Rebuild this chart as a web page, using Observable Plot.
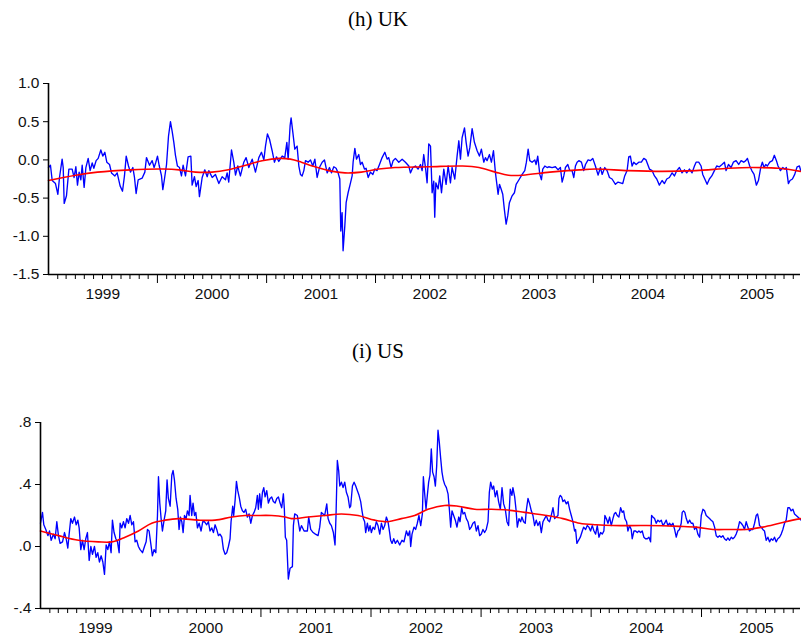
<!DOCTYPE html>
<html><head><meta charset="utf-8">
<script src="https://cdn.jsdelivr.net/npm/d3@7"></script>
<script src="https://cdn.jsdelivr.net/npm/@observablehq/plot@0.6"></script>
<style>
body{margin:0;background:#fff;}
#wrap{position:relative;width:801px;height:639px;overflow:hidden;background:#fff;}
.title{position:absolute;left:0;width:756px;text-align:center;font-family:"Liberation Serif","Times New Roman",serif;font-size:21px;line-height:24px;color:#000;}
.chart{position:absolute;left:0;}
</style></head><body>
<div id="wrap">
 <div class="title" style="top:7px">(h) UK</div>
 <div class="chart" id="uk" style="top:60px"></div>
 <div class="title" style="top:339px">(i) US</div>
 <div class="chart" id="us" style="top:400px"></div>
</div>
<script>
// time = years elapsed since 1 Jan 1999
const START_YEAR = 1999;
const END_T = 6.90;
const yearLabels = [1999, 2000, 2001, 2002, 2003, 2004, 2005];
const ukTicks = [1.0, 0.5, 0.0, -0.5, -1.0, -1.5];
const usTicks = [0.8, 0.4, 0.0, -0.4];

const ukBlue = [[0.000,-0.10],[0.018,-0.07],[0.034,-0.27],[0.064,-0.31],[0.086,-0.45],[0.101,-0.23],[0.125,0.01],[0.135,-0.10],[0.144,-0.57],[0.165,-0.47],[0.187,-0.12],[0.217,-0.12],[0.235,-0.23],[0.251,-0.09],[0.266,-0.33],[0.281,-0.16],[0.297,-0.26],[0.309,-0.07],[0.327,-0.36],[0.343,-0.10],[0.364,0.02],[0.382,-0.14],[0.401,-0.04],[0.416,-0.11],[0.437,-0.01],[0.456,0.02],[0.480,0.13],[0.498,0.05],[0.517,0.10],[0.535,-0.03],[0.560,-0.06],[0.578,-0.17],[0.609,-0.21],[0.630,-0.17],[0.657,-0.34],[0.679,-0.41],[0.697,-0.21],[0.713,0.05],[0.734,-0.08],[0.752,-0.16],[0.774,-0.10],[0.789,-0.23],[0.804,-0.44],[0.823,-0.26],[0.859,-0.24],[0.884,-0.16],[0.899,0.03],[0.927,-0.07],[0.951,-0.01],[0.969,-0.10],[0.985,-0.03],[1.000,0.05],[1.015,-0.07],[1.037,-0.21],[1.049,-0.39],[1.064,-0.25],[1.083,-0.06],[1.101,0.31],[1.119,0.50],[1.135,0.37],[1.150,0.23],[1.165,0.06],[1.183,-0.08],[1.202,-0.10],[1.220,-0.21],[1.235,-0.07],[1.257,-0.21],[1.281,0.04],[1.306,0.05],[1.318,-0.33],[1.339,-0.22],[1.355,-0.35],[1.373,-0.27],[1.385,-0.48],[1.410,-0.23],[1.434,-0.13],[1.456,-0.22],[1.471,-0.14],[1.502,-0.23],[1.532,-0.19],[1.563,-0.31],[1.593,-0.22],[1.624,-0.26],[1.639,-0.17],[1.654,-0.29],[1.679,0.13],[1.700,-0.03],[1.716,-0.20],[1.737,-0.08],[1.761,-0.21],[1.792,-0.03],[1.813,0.03],[1.838,-0.10],[1.869,0.01],[1.899,-0.16],[1.930,0.03],[1.954,0.10],[1.976,0.00],[1.991,0.18],[2.009,0.34],[2.028,0.27],[2.052,0.12],[2.073,-0.03],[2.092,0.04],[2.113,-0.02],[2.144,0.05],[2.168,0.03],[2.187,0.23],[2.199,0.01],[2.217,0.45],[2.226,0.55],[2.242,0.36],[2.260,0.14],[2.281,0.18],[2.297,-0.08],[2.312,-0.19],
[2.327,-0.21],[2.343,-0.14],[2.358,-0.01],[2.382,-0.03],[2.404,0.00],[2.425,-0.08],[2.444,0.01],[2.465,-0.23],[2.486,-0.10],[2.511,-0.03],[2.532,0.00],[2.557,-0.17],[2.578,-0.10],[2.596,-0.17],[2.618,-0.09],[2.639,-0.11],[2.657,-0.17],[2.673,-0.25],[2.682,-0.93],[2.694,-0.69],[2.703,-1.19],[2.719,-0.86],[2.731,-0.56],[2.749,-0.43],[2.771,-0.30],[2.786,-0.21],[2.795,-0.03],[2.811,0.15],[2.826,0.01],[2.847,0.07],[2.862,-0.06],[2.878,-0.03],[2.899,-0.12],[2.914,-0.11],[2.933,-0.23],[2.954,-0.16],[2.976,-0.19],[2.994,-0.12],[3.015,-0.14],[3.037,-0.06],[3.061,0.03],[3.086,0.10],[3.107,0.01],[3.122,0.03],[3.144,-0.10],[3.162,-0.01],[3.183,0.02],[3.214,-0.03],[3.245,0.01],[3.275,-0.03],[3.306,-0.08],[3.321,-0.17],[3.343,-0.10],[3.367,-0.08],[3.391,-0.12],[3.413,-0.06],[3.428,-0.14],[3.443,0.07],[3.459,-0.10],[3.474,-0.30],[3.489,0.21],[3.505,0.18],[3.520,-0.43],[3.535,-0.28],[3.544,-0.75],[3.554,-0.30],[3.575,-0.38],[3.590,-0.21],[3.606,-0.43],[3.627,-0.12],[3.648,-0.32],[3.667,-0.08],[3.688,-0.30],[3.703,-0.10],[3.728,-0.25],[3.749,0.05],[3.765,0.25],[3.780,0.01],[3.795,0.29],[3.817,0.42],[3.832,0.23],[3.850,0.05],[3.866,0.16],[3.887,0.41],[3.908,0.23],[3.933,0.12],[3.954,0.05],[3.972,0.14],[3.994,-0.03],[4.009,0.03],[4.024,-0.01],[4.046,0.07],[4.064,-0.03],[4.083,0.12],[4.101,-0.17],[4.116,-0.34],[4.125,-0.45],[4.138,-0.32],[4.153,-0.38],[4.168,-0.45],[4.183,-0.65],[4.199,-0.84],[4.214,-0.73],[4.229,-0.56],[4.254,-0.47],[4.275,-0.43],[4.291,-0.32],[4.321,-0.25],[4.346,-0.19],[4.370,-0.14],[4.385,-0.03],[4.401,0.14],[4.416,-0.01],[4.437,-0.03],[4.462,0.00],[4.474,-0.06],[4.489,0.05],[4.508,-0.19],[4.523,-0.26],[4.535,-0.12],[4.554,-0.08],[4.575,-0.10],
[4.590,-0.09],[4.621,-0.10],[4.651,-0.09],[4.676,-0.13],[4.697,-0.10],[4.713,-0.29],[4.728,-0.21],[4.743,-0.10],[4.765,-0.06],[4.783,-0.14],[4.804,-0.14],[4.820,-0.23],[4.835,-0.08],[4.850,-0.03],[4.866,-0.01],[4.890,-0.03],[4.911,-0.14],[4.927,-0.06],[4.951,0.00],[4.972,-0.01],[4.994,0.02],[5.018,-0.08],[5.043,-0.20],[5.064,-0.10],[5.080,-0.19],[5.104,-0.10],[5.125,-0.14],[5.147,-0.23],[5.171,-0.25],[5.202,-0.32],[5.226,-0.29],[5.248,-0.30],[5.269,-0.31],[5.287,-0.21],[5.309,-0.14],[5.324,0.04],[5.339,0.05],[5.355,-0.08],[5.370,-0.03],[5.392,-0.06],[5.416,-0.03],[5.440,-0.03],[5.462,0.02],[5.483,0.00],[5.514,-0.12],[5.538,-0.14],[5.560,-0.21],[5.581,-0.25],[5.605,-0.33],[5.630,-0.27],[5.651,-0.31],[5.673,-0.25],[5.697,-0.23],[5.722,-0.17],[5.743,-0.21],[5.765,-0.14],[5.789,-0.10],[5.813,-0.17],[5.835,-0.13],[5.856,-0.17],[5.881,-0.12],[5.905,-0.17],[5.927,-0.08],[5.942,-0.03],[5.966,-0.03],[5.988,-0.08],[6.003,-0.19],[6.028,-0.27],[6.043,-0.32],[6.064,-0.25],[6.086,-0.21],[6.110,-0.14],[6.131,-0.08],[6.156,-0.09],[6.180,-0.06],[6.202,-0.03],[6.217,-0.14],[6.239,-0.06],[6.263,-0.10],[6.284,-0.03],[6.309,-0.01],[6.333,-0.06],[6.355,-0.01],[6.379,-0.03],[6.398,-0.01],[6.413,0.02],[6.434,-0.08],[6.453,-0.14],[6.474,-0.19],[6.495,-0.33],[6.514,-0.27],[6.535,-0.10],[6.550,-0.03],[6.566,-0.10],[6.581,-0.06],[6.596,-0.08],[6.618,-0.03],[6.642,-0.01],[6.660,0.06],[6.679,-0.01],[6.694,-0.08],[6.716,-0.14],[6.737,-0.10],[6.758,-0.12],[6.770,-0.10],[6.789,-0.31],[6.804,-0.27],[6.826,-0.25],[6.847,-0.19],[6.869,-0.09],[6.890,-0.08],[6.902,-0.14]];

const ukRed = [[0.00,-0.27],[0.25,-0.20],[0.45,-0.16],[0.75,-0.13],[1.05,-0.12],[1.20,-0.13],[1.35,-0.16],[1.50,-0.16],[1.65,-0.13],[1.81,-0.07],[1.96,-0.01],[2.12,0.02],[2.22,0.01],[2.32,-0.03],[2.42,-0.08],[2.57,-0.14],[2.72,-0.17],[2.87,-0.16],[3.03,-0.12],[3.18,-0.10],[3.49,-0.09],[3.80,-0.08],[3.95,-0.10],[4.10,-0.16],[4.22,-0.20],[4.35,-0.20],[4.60,-0.16],[4.87,-0.13],[5.02,-0.12],[5.32,-0.14],[5.63,-0.15],[5.94,-0.14],[6.24,-0.11],[6.45,-0.10],[6.70,-0.11],[6.90,-0.15]];

const usBlue = [[0.000,0.15],[0.018,0.22],[0.030,0.14],[0.048,0.11],[0.067,0.07],[0.082,0.10],[0.097,0.04],[0.118,0.08],[0.133,0.05],[0.148,0.16],[0.163,0.07],[0.178,0.02],[0.200,0.03],[0.218,0.09],[0.233,0.05],[0.248,-0.01],[0.260,0.08],[0.275,0.18],[0.290,0.15],[0.309,0.19],[0.324,0.14],[0.339,0.17],[0.351,0.12],[0.366,-0.02],[0.381,0.04],[0.396,-0.02],[0.411,0.05],[0.426,0.09],[0.442,-0.09],[0.457,0.00],[0.472,-0.05],[0.490,0.00],[0.505,-0.07],[0.520,-0.04],[0.535,-0.10],[0.551,-0.06],[0.566,-0.10],[0.581,-0.18],[0.596,0.01],[0.611,-0.02],[0.626,0.03],[0.641,-0.04],[0.653,0.17],[0.668,0.09],[0.684,0.05],[0.699,0.03],[0.714,-0.04],[0.723,0.15],[0.738,0.12],[0.753,0.16],[0.768,0.12],[0.783,0.18],[0.799,0.15],[0.814,0.20],[0.829,0.14],[0.844,0.16],[0.859,0.03],[0.874,0.04],[0.889,0.00],[0.904,-0.02],[0.926,-0.04],[0.944,0.00],[0.959,0.03],[0.971,0.11],[0.986,0.10],[1.001,0.02],[1.016,-0.06],[1.031,-0.02],[1.047,-0.04],[1.062,0.20],[1.071,0.45],[1.083,0.28],[1.095,0.18],[1.107,0.10],[1.122,0.17],[1.137,0.23],[1.149,0.43],[1.161,0.31],[1.177,0.26],[1.192,0.46],[1.204,0.49],[1.216,0.43],[1.231,0.31],[1.246,0.24],[1.258,0.11],[1.270,0.19],[1.283,0.16],[1.295,0.09],[1.307,0.20],[1.322,0.18],[1.334,0.23],[1.349,0.20],[1.358,0.33],[1.373,0.20],[1.385,0.28],[1.398,0.20],[1.410,0.22],[1.425,0.12],[1.440,0.15],[1.458,0.10],[1.473,0.16],[1.488,0.16],[1.509,0.14],[1.524,0.16],[1.539,0.10],[1.555,0.12],[1.570,0.09],[1.585,0.14],[1.600,0.11],[1.615,0.07],[1.630,0.08],[1.646,0.06],[1.661,-0.02],[1.676,-0.05],[1.691,-0.04],[1.706,0.00],[1.721,0.05],[1.730,0.16],[1.745,0.26],[1.754,0.20],[1.767,0.30],[1.779,0.42],[1.791,0.36],[1.806,0.31],[1.818,0.26],[1.833,0.23],[1.848,0.22],[1.863,0.24],[1.878,0.19],[1.894,0.21],[1.909,0.15],[1.924,0.20],[1.939,0.22],[1.954,0.25],[1.969,0.33],[1.978,0.24],[1.990,0.34],[2.002,0.25],[2.015,0.35],[2.027,0.38],[2.039,0.32],[2.054,0.36],[2.069,0.28],[2.084,0.31],[2.099,0.32],[2.114,0.29],[2.130,0.28],[2.145,0.31],[2.160,0.32],[2.175,0.28],[2.190,0.25],[2.205,0.34],[2.214,0.24],[2.223,0.06],[2.235,0.04],[2.250,-0.21],[2.266,-0.14],
[2.287,-0.13],[2.296,0.135],[2.308,0.21],[2.332,0.20],[2.354,0.10],[2.369,0.135],[2.393,0.10],[2.423,0.10],[2.435,0.19],[2.453,0.11],[2.475,0.09],[2.496,0.08],[2.520,0.07],[2.535,0.125],[2.550,0.22],[2.565,0.21],[2.580,0.20],[2.599,0.275],[2.611,0.18],[2.626,0.15],[2.641,0.135],[2.659,0.09],[2.674,0.01],[2.683,0.20],[2.695,0.555],[2.707,0.49],[2.717,0.39],[2.732,0.415],[2.747,0.38],[2.762,0.415],[2.777,0.35],[2.792,0.32],[2.807,0.25],[2.816,0.26],[2.832,0.39],[2.847,0.415],[2.862,0.39],[2.877,0.36],[2.892,0.33],[2.907,0.29],[2.919,0.23],[2.931,0.18],[2.943,0.16],[2.952,0.09],[2.968,0.15],[2.980,0.10],[2.992,0.135],[3.004,0.09],[3.019,0.125],[3.034,0.11],[3.049,0.16],[3.064,0.135],[3.080,0.08],[3.095,0.15],[3.110,0.11],[3.125,0.135],[3.140,0.19],[3.155,0.16],[3.170,0.09],[3.179,0.04],[3.192,0.02],[3.207,0.05],[3.222,0.02],[3.240,0.04],[3.261,0.01],[3.282,0.04],[3.300,0.03],[3.322,0.10],[3.337,0.07],[3.352,0.10],[3.361,0.00],[3.373,0.08],[3.391,0.125],[3.406,0.11],[3.421,0.15],[3.436,0.20],[3.452,0.135],[3.467,0.21],[3.476,0.45],[3.488,0.34],[3.500,0.24],[3.512,0.33],[3.524,0.415],[3.536,0.46],[3.548,0.63],[3.560,0.48],[3.573,0.45],[3.585,0.39],[3.597,0.52],[3.609,0.75],[3.621,0.67],[3.633,0.57],[3.645,0.48],[3.657,0.43],[3.670,0.40],[3.685,0.38],[3.700,0.34],[3.712,0.24],[3.724,0.125],[3.736,0.23],[3.751,0.20],[3.766,0.17],[3.781,0.125],[3.797,0.19],[3.809,0.16],[3.824,0.25],[3.836,0.21],[3.851,0.22],[3.866,0.18],[3.881,0.16],[3.896,0.11],[3.911,0.125],[3.926,0.15],[3.942,0.16],[3.957,0.10],[3.972,0.135],[3.987,0.07],[4.002,0.08],[4.017,0.11],[4.032,0.09],[4.047,0.11],[4.063,0.16],[4.075,0.35],[4.087,0.415],[4.102,0.37],[4.114,0.39],[4.129,0.32],[4.144,0.36],[4.159,0.29],[4.175,0.24],[4.190,0.38],[4.205,0.275],[4.220,0.24],[4.235,0.16],[4.250,0.135],[4.265,0.37],[4.280,0.33],[4.289,0.38],[4.305,0.32],[4.317,0.24],[4.329,0.125],[4.344,0.18],[4.359,0.16],[4.371,0.19],[4.386,0.16],[4.401,0.15],[4.410,0.23],[4.426,0.31],[4.441,0.275],[4.456,0.23],[4.471,0.20],[4.486,0.135],[4.501,0.17],[4.516,0.135],[4.532,0.16],[4.547,0.09],[4.562,0.16],[4.577,0.18],
[4.592,0.20],[4.607,0.17],[4.622,0.16],[4.637,0.20],[4.653,0.25],[4.668,0.18],[4.683,0.19],[4.698,0.20],[4.707,0.31],[4.719,0.33],[4.731,0.32],[4.743,0.29],[4.758,0.30],[4.774,0.275],[4.789,0.29],[4.804,0.24],[4.819,0.20],[4.834,0.16],[4.849,0.10],[4.858,0.11],[4.870,0.02],[4.885,0.04],[4.901,0.06],[4.919,0.10],[4.931,0.125],[4.949,0.11],[4.964,0.135],[4.979,0.125],[4.994,0.10],[5.009,0.135],[5.025,0.10],[5.040,0.08],[5.055,0.135],[5.070,0.06],[5.085,0.09],[5.100,0.08],[5.115,0.10],[5.124,0.20],[5.137,0.18],[5.152,0.15],[5.167,0.19],[5.182,0.135],[5.197,0.18],[5.209,0.21],[5.221,0.22],[5.236,0.20],[5.251,0.19],[5.267,0.25],[5.282,0.22],[5.294,0.23],[5.306,0.18],[5.321,0.16],[5.333,0.10],[5.348,0.135],[5.363,0.11],[5.372,0.05],[5.388,0.10],[5.403,0.10],[5.418,0.09],[5.433,0.10],[5.448,0.09],[5.463,0.10],[5.478,0.06],[5.493,0.05],[5.509,0.05],[5.524,0.06],[5.539,0.03],[5.548,0.20],[5.560,0.19],[5.575,0.18],[5.590,0.15],[5.605,0.17],[5.621,0.16],[5.636,0.17],[5.651,0.135],[5.666,0.15],[5.681,0.17],[5.696,0.135],[5.711,0.15],[5.726,0.135],[5.742,0.15],[5.757,0.11],[5.772,0.06],[5.787,0.10],[5.802,0.11],[5.817,0.15],[5.826,0.22],[5.838,0.23],[5.850,0.22],[5.863,0.18],[5.878,0.15],[5.893,0.17],[5.908,0.15],[5.923,0.15],[5.938,0.11],[5.953,0.125],[5.968,0.08],[5.984,0.06],[5.999,0.20],[6.014,0.24],[6.029,0.23],[6.044,0.20],[6.059,0.19],[6.074,0.18],[6.089,0.17],[6.105,0.16],[6.120,0.125],[6.135,0.07],[6.150,0.06],[6.165,0.07],[6.180,0.06],[6.195,0.07],[6.210,0.05],[6.226,0.04],[6.241,0.055],[6.256,0.04],[6.271,0.06],[6.286,0.05],[6.301,0.06],[6.316,0.08],[6.331,0.11],[6.347,0.16],[6.362,0.15],[6.377,0.135],[6.392,0.11],[6.407,0.16],[6.422,0.125],[6.437,0.10],[6.452,0.11],[6.468,0.11],[6.483,0.15],[6.498,0.20],[6.510,0.21],[6.519,0.18],[6.528,0.135],[6.543,0.125],[6.558,0.11],[6.573,0.10],[6.589,0.04],[6.604,0.06],[6.619,0.03],[6.634,0.05],[6.649,0.04],[6.664,0.06],[6.679,0.03],[6.694,0.05],[6.710,0.06],[6.725,0.08],[6.740,0.11],[6.755,0.15],[6.770,0.17],[6.785,0.25],[6.800,0.25],[6.815,0.23],[6.831,0.24],[6.846,0.21],[6.861,0.20],[6.876,0.19],[6.891,0.18],[6.906,0.17]];

const usRed = [[0.000,0.10],[0.163,0.07],[0.345,0.04],[0.526,0.03],[0.647,0.03],[0.768,0.06],[0.889,0.10],[1.010,0.15],[1.131,0.17],[1.252,0.18],[1.434,0.17],[1.585,0.17],[1.736,0.19],[1.857,0.20],[1.948,0.20],[2.099,0.20],[2.220,0.19],[2.278,0.18],[2.429,0.19],[2.580,0.20],[2.732,0.21],[2.883,0.20],[3.034,0.17],[3.155,0.16],[3.276,0.18],[3.397,0.20],[3.518,0.24],[3.670,0.265],[3.791,0.26],[3.942,0.24],[4.093,0.24],[4.244,0.235],[4.395,0.22],[4.592,0.20],[4.743,0.18],[4.895,0.15],[5.046,0.14],[5.197,0.135],[5.500,0.135],[5.802,0.13],[5.953,0.125],[6.105,0.11],[6.256,0.11],[6.407,0.11],[6.558,0.125],[6.710,0.15],[6.830,0.17],[6.906,0.18]];

const START = Date.UTC(START_YEAR, 0, 1);
const toDate = t => new Date(START + t * 365.25 * 864e5);
const x0 = toDate(0), x1 = toDate(END_T);
const allMonths = d3.utcMonth.range(new Date(Date.UTC(START_YEAR, 1, 1)), x1);
const minorTicks = allMonths.filter(d => d.getUTCMonth() !== 0);
const majorTicks = allMonths.filter(d => d.getUTCMonth() === 0);
const midYears = yearLabels.map(y => new Date(Date.UTC(y, 6, 2)));

function panel({blue, red, yDomain, yTicks, yFmt, marginLeft, marginTop, marginBottom, height}) {
  return Plot.plot({
    width: 801, height, marginLeft, marginRight: 1, marginTop, marginBottom,
    style: {fontFamily: "'Liberation Sans', Arial, sans-serif", fontSize: "15.5px", color: "#111", background: "#fff", overflow: "visible"},
    x: {type: "utc", domain: [x0, x1]},
    y: {domain: yDomain},
    marks: [
      Plot.line(blue, {x: d => toDate(d[0]), y: d => d[1], stroke: "#0000ff", strokeWidth: 1.35}),
      Plot.line(red, {x: d => toDate(d[0]), y: d => d[1], stroke: "#ff0000", strokeWidth: 1.6, curve: "catmull-rom"}),
      Plot.ruleX([x0], {stroke: "#000", strokeWidth: 1.6}),
      Plot.ruleY([yDomain[0]], {stroke: "#000", strokeWidth: 1.6}),
      Plot.axisY({ticks: yTicks, tickFormat: yFmt, tickSize: 5, tickPadding: 4, label: null, stroke: "#000"}),
      Plot.axisX({ticks: minorTicks, tickFormat: () => "", tickSize: 5, label: null, stroke: "#000"}),
      Plot.axisX({ticks: majorTicks, tickFormat: () => "", tickSize: 9, label: null, stroke: "#000"}),
      Plot.axisX({ticks: midYears, tickFormat: d => String(d.getUTCFullYear()), tickSize: 0, tickPadding: 13, label: null})
    ]
  });
}

const f1 = d3.format(".1f");
document.getElementById("uk").appendChild(panel({
  blue: ukBlue, red: ukRed, yDomain: [-1.5, 1.0], yTicks: ukTicks,
  yFmt: d => f1(d).replace("−", "-"),
  marginLeft: 48, marginTop: 23, marginBottom: 36, height: 250
}));
document.getElementById("us").appendChild(panel({
  blue: usBlue, red: usRed, yDomain: [-0.4, 0.8], yTicks: usTicks,
  yFmt: d => f1(d).replace("−", "-").replace(/^(-?)0\./, "$1."),
  marginLeft: 40, marginTop: 22, marginBottom: 31, height: 239
}));
</script>
</body></html>
